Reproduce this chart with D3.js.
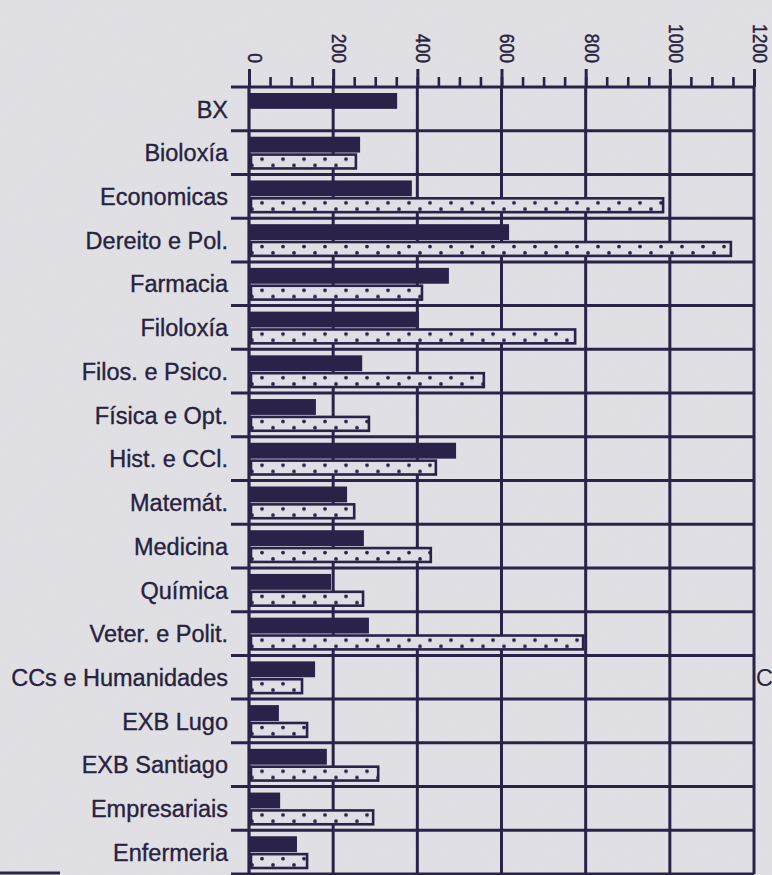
<!DOCTYPE html>
<html>
<head>
<meta charset="utf-8">
<script src="https://cdn.jsdelivr.net/npm/d3@7"></script>
<style>
  html, body { margin: 0; padding: 0; background: #dddde2; }
  svg { display: block; }
</style>
</head>
<body>
<svg id="chart"></svg>
<script>
// categories, top to bottom
const categories = [
  "BX", "Bioloxía", "Economicas", "Dereito e Pol.", "Farmacia", "Filoloxía",
  "Filos. e Psico.", "Física e Opt.", "Hist. e CCl.", "Matemát.", "Medicina",
  "Química", "Veter. e Polit.", "CCs e Humanidades", "EXB Lugo", "EXB Santiago",
  "Empresariais", "Enfermeria"
];
// solid (dark) bars
const solidValues = [352, 264, 387, 618, 475, 404, 269, 159, 492, 233, 273, 195, 285, 157, 71, 185, 74, 114];
// dotted bars (BX has none)
const dottedValues = [null, 254, 984, 1145, 411, 775, 558, 285, 444, 250, 432, 271, 794, 126, 138, 307, 295, 138];
const tickValues = [0, 200, 400, 600, 800, 1000, 1200];

const W = 772, H = 875;
const ink = "#2a2249";
const textInk = "#27223d";
const font = "'Liberation Sans', Arial, sans-serif";

const svg = d3.select("#chart").attr("width", W).attr("height", H);

// paper texture
const defs = svg.append("defs");
const noise = defs.append("filter").attr("id", "noise");
noise.append("feTurbulence").attr("type", "fractalNoise").attr("baseFrequency", 0.8).attr("numOctaves", 2).attr("seed", 3);
noise.append("feColorMatrix").attr("type", "matrix")
  .attr("values", "0 0 0 0 0.5  0 0 0 0 0.5  0 0 0 0 0.55  0 0 0 0.07 0");
svg.append("rect").attr("width", W).attr("height", H).attr("fill", "#e0e0e5");
svg.append("rect").attr("width", W).attr("height", H).attr("filter", "url(#noise)");

const x = d3.scaleLinear().domain([0, 1200]).range([249, 754]);
const y = d3.scaleBand().domain(categories).range([87, 874]).paddingInner(0).paddingOuter(0);
const step = y.step();
const inner = d3.scaleBand().domain(["solid", "dotted"]).range([6, step - 5]).paddingInner(0.06);

// dot pattern, one row per band so it lines up with each dotted bar
const dotY = inner("dotted");
const pat = defs.append("pattern").attr("id", "dots")
  .attr("patternUnits", "userSpaceOnUse")
  .attr("x", x(0)).attr("y", y.range()[0])
  .attr("width", 21).attr("height", step);
pat.append("rect").attr("width", 21).attr("height", step).attr("fill", "#dedee4");
pat.append("circle").attr("cx", 13).attr("cy", dotY + 5.5).attr("r", 1.9).attr("fill", ink);
pat.append("circle").attr("cx", 3).attr("cy", dotY + inner.bandwidth() - 4).attr("r", 1.9).attr("fill", ink);

const grid = svg.append("g").attr("stroke", ink).attr("stroke-width", 3);

// vertical grid lines
grid.selectAll(".vgrid")
  .data(tickValues.slice(1))
  .enter().append("line")
  .attr("x1", d => x(d)).attr("x2", d => x(d))
  .attr("y1", y.range()[0]).attr("y2", y.range()[1]);

// band boundaries, reaching past the left axis like ticks
const bounds = categories.map(c => y(c)).concat([y.range()[1]]);
grid.selectAll(".hgrid")
  .data(bounds)
  .enter().append("line")
  .attr("x1", 231).attr("x2", x(1200))
  .attr("y1", d => d).attr("y2", d => d);

// solid bars
svg.selectAll(".solid")
  .data(categories)
  .enter().append("rect")
  .attr("class", "solid")
  .attr("x", x(0))
  .attr("y", (d) => y(d) + inner("solid"))
  .attr("width", (d, i) => x(solidValues[i]) - x(0))
  .attr("height", inner.bandwidth())
  .attr("fill", ink);

// dotted bars
svg.selectAll(".dotted")
  .data(categories.filter((d, i) => dottedValues[i] != null))
  .enter().append("rect")
  .attr("class", "dotted")
  .attr("x", x(0) + 2)
  .attr("y", d => y(d) + inner("dotted") + 1)
  .attr("width", d => x(dottedValues[categories.indexOf(d)]) - x(0) - 2)
  .attr("height", inner.bandwidth() - 2)
  .attr("fill", "url(#dots)")
  .attr("stroke", ink)
  .attr("stroke-width", 2.6);

// zero line
svg.append("line")
  .attr("x1", x(0)).attr("x2", x(0))
  .attr("y1", y.range()[0]).attr("y2", y.range()[1])
  .attr("stroke", ink).attr("stroke-width", 3.2);

// top axis: minor ticks, then major ticks with rotated labels
const axisY = y.range()[0];
svg.append("g")
  .attr("transform", `translate(0,${axisY})`)
  .call(d3.axisTop(x).tickValues(d3.range(0, 1201, 50)).tickSize(10).tickFormat(""))
  .call(g => g.select(".domain").remove())
  .call(g => g.selectAll("line").attr("stroke", ink).attr("stroke-width", 2.6));

const major = svg.append("g")
  .attr("transform", `translate(0,${axisY})`)
  .call(d3.axisTop(x).tickValues(tickValues).tickSize(18).tickFormat(d3.format("d")));
major.select(".domain").remove();
major.selectAll("line").attr("stroke", ink).attr("stroke-width", 3);
// the scan is a little squashed vertically, so the rotated digits are too
major.selectAll("text")
  .attr("transform", "rotate(90) scale(1, 1.15)")
  .attr("x", -24).attr("y", 0).attr("dy", "0.08em")
  .attr("text-anchor", "end")
  .attr("fill", textInk)
  .attr("stroke", textInk).attr("stroke-width", 0.4)
  .style("font-family", font)
  .style("font-size", "17.5px");

// category labels
svg.selectAll(".cat")
  .data(categories)
  .enter().append("text")
  .attr("class", "cat")
  .attr("x", 228)
  .attr("y", d => y(d) + step / 2)
  .attr("dy", "0.37em")
  .attr("text-anchor", "end")
  .attr("fill", textInk)
  .attr("stroke", textInk).attr("stroke-width", 0.35)
  .style("font-family", font)
  .style("font-size", "23.5px")
  .text(d => d);

// fragment of the neighbouring page, cut by the edge
svg.append("text")
  .attr("x", 756).attr("y", y("CCs e Humanidades") + step / 2)
  .attr("dy", "0.37em")
  .attr("fill", textInk)
  .style("font-family", font)
  .style("font-size", "23.5px")
  .text("CC");

svg.append("line")
  .attr("x1", 0).attr("x2", 60).attr("y1", 873).attr("y2", 873)
  .attr("stroke", ink).attr("stroke-width", 3);
</script>
</body>
</html>
